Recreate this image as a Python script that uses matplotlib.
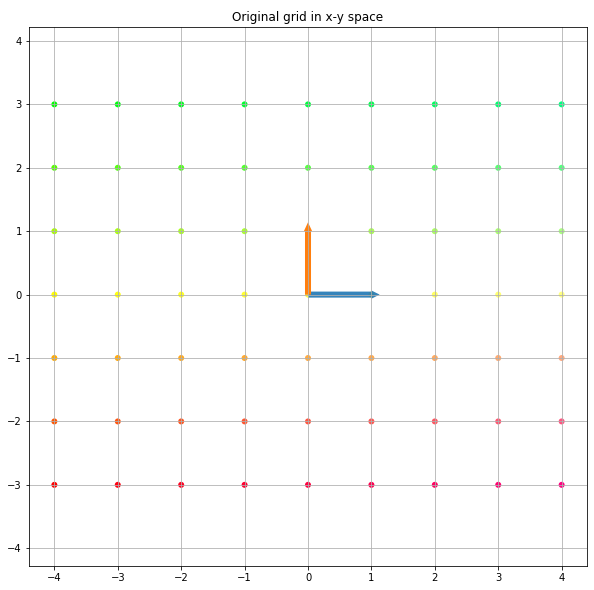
import numpy as np
import matplotlib
matplotlib.use("Agg")
import matplotlib.pyplot as plt

# grid of points
xvals = [-4, -3, -2, -1, 0, 1, 2, 3, 4]
yvals = [-3, -2, -1, 0, 1, 2, 3]
# basis vectors drawn from origin
basis_x = [1, 0]
basis_y = [0, 1]

xs = np.array([x for x in xvals for y in yvals], dtype=float)
ys = np.array([y for x in xvals for y in yvals], dtype=float)

def colorizer(x, y):
    r = min(1, 1 - y / 3)
    g = min(1, 1 + y / 3)
    b = 1 / 4 + x / 16
    return (r, g, b)

colors = [colorizer(x, y) for x, y in zip(xs, ys)]

fig = plt.figure(figsize=(594 / 72, 590 / 72), dpi=72)
ax = fig.add_axes([29 / 594, 24 / 590, 558 / 594, 539 / 590])
ax.scatter(xs, ys, s=36, c=colors, edgecolor="none")
# arrows sit under the grid, like the original
ax.arrow(0, 0, basis_x[0], basis_x[1], width=0.095, head_width=0.13,
         head_length=0.13, color="C0", alpha=0.9, lw=0, zorder=1)
ax.arrow(0, 0, basis_y[0], basis_y[1], width=0.095, head_width=0.13,
         head_length=0.14, color="C1", lw=0, zorder=1)
ax.grid(True)
ax.axis("equal")
ax.set_xlim(-4.4, 4.4)
ax.set_ylim(-4.28, 4.22)
ax.set_xticks(range(-4, 5))
ax.set_yticks(range(-4, 5))
ax.set_title("Original grid in x-y space")
fig.savefig("out.png", dpi=72)
